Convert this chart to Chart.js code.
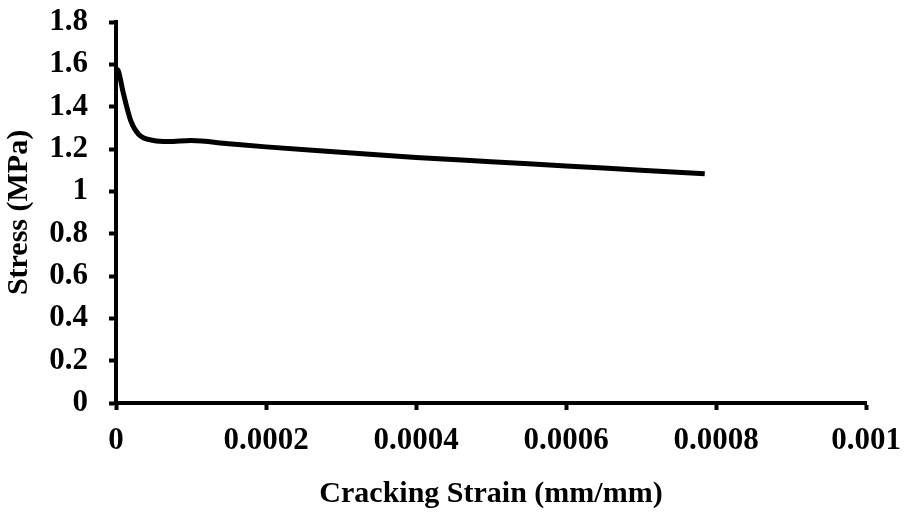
<!DOCTYPE html>
<html>
<head>
<meta charset="utf-8">
<script src="https://cdn.jsdelivr.net/npm/chart.js@4/dist/chart.umd.min.js"></script>
<style>
  html, body { margin: 0; padding: 0; background: #fff; }
  #wrap { width: 905px; height: 515px; position: relative; }
</style>
</head>
<body>
<div id="wrap"><canvas id="stress-strain"></canvas></div>
<script>
// tension softening curve: cracking strain vs stress
const strain = [0, 0.000003, 0.00001, 0.00002, 0.00003, 0.00005, 0.00007, 0.0001, 0.00015, 0.0002,
  0.0003, 0.0004, 0.0005, 0.0006, 0.0007, 0.000785];
const stress = [1.58, 1.57, 1.46, 1.33, 1.27, 1.24, 1.235, 1.24, 1.225, 1.21,
  1.185, 1.16, 1.14, 1.12, 1.10, 1.083];

const xTicks = [0, 0.0002, 0.0004, 0.0006, 0.0008, 0.001];
const yTicks = [0, 0.2, 0.4, 0.6, 0.8, 1, 1.2, 1.4, 1.6, 1.8];

const serif = 'Liberation Serif, Times New Roman, serif';

var chart;
function createChart() {
  const ctx = document.getElementById('stress-strain').getContext('2d');
  chart = new Chart(ctx, {
    type: 'scatter',
    data: {
      datasets: [{
        data: strain.map((x, i) => ({ x: x, y: stress[i] })),
        showLine: true,
        borderColor: '#000',
        borderWidth: 5,
        pointRadius: 0,
        cubicInterpolationMode: 'monotone',
      }],
    },
    options: {
      responsive: true,
      maintainAspectRatio: false,
      animation: false,
      layout: { padding: { top: 22, right: 39, left: 0, bottom: 3 } },
      plugins: {
        legend: { display: false },
        tooltip: { enabled: false },
      },
      scales: {
        x: {
          type: 'linear',
          min: 0,
          max: 0.001,
          afterBuildTicks: (s) => { s.ticks = xTicks.map(v => ({ value: v })); },
          afterFit: (s) => {
            s.height = 109;
            // let layout padding alone decide the plot edges
            s.paddingLeft = 0;
            s.paddingRight = 0;
          },
          border: { color: '#000', width: 4 },
          grid: { drawOnChartArea: false, tickLength: 7, tickColor: '#000', tickWidth: 4 },
          ticks: {
            color: '#000',
            padding: 12,
            maxRotation: 0,
            font: { family: serif, size: 31, weight: 'bold' },
            callback: (v) => String(v),
          },
          title: {
            display: true,
            text: 'Cracking Strain (mm/mm)',
            color: '#000',
            font: { family: serif, size: 30, weight: 'bold' },
            padding: 0,
          },
        },
        y: {
          min: 0,
          max: 1.8,
          afterBuildTicks: (s) => { s.ticks = yTicks.map(v => ({ value: v })); },
          afterFit: (s) => {
            s.width = 116;
            s.paddingTop = 0;
            s.paddingBottom = 0;
          },
          border: { color: '#000', width: 4 },
          grid: { drawOnChartArea: false, tickLength: 7, tickColor: '#000', tickWidth: 4 },
          ticks: {
            color: '#000',
            padding: 21,
            font: { family: serif, size: 31, weight: 'bold' },
            callback: (v) => String(v),
          },
          title: {
            display: true,
            text: 'Stress (MPa)',
            color: '#000',
            font: { family: serif, size: 30, weight: 'bold' },
            padding: 1,
          },
        },
      },
    },
  });
}

createChart();
</script>
</body>
</html>
